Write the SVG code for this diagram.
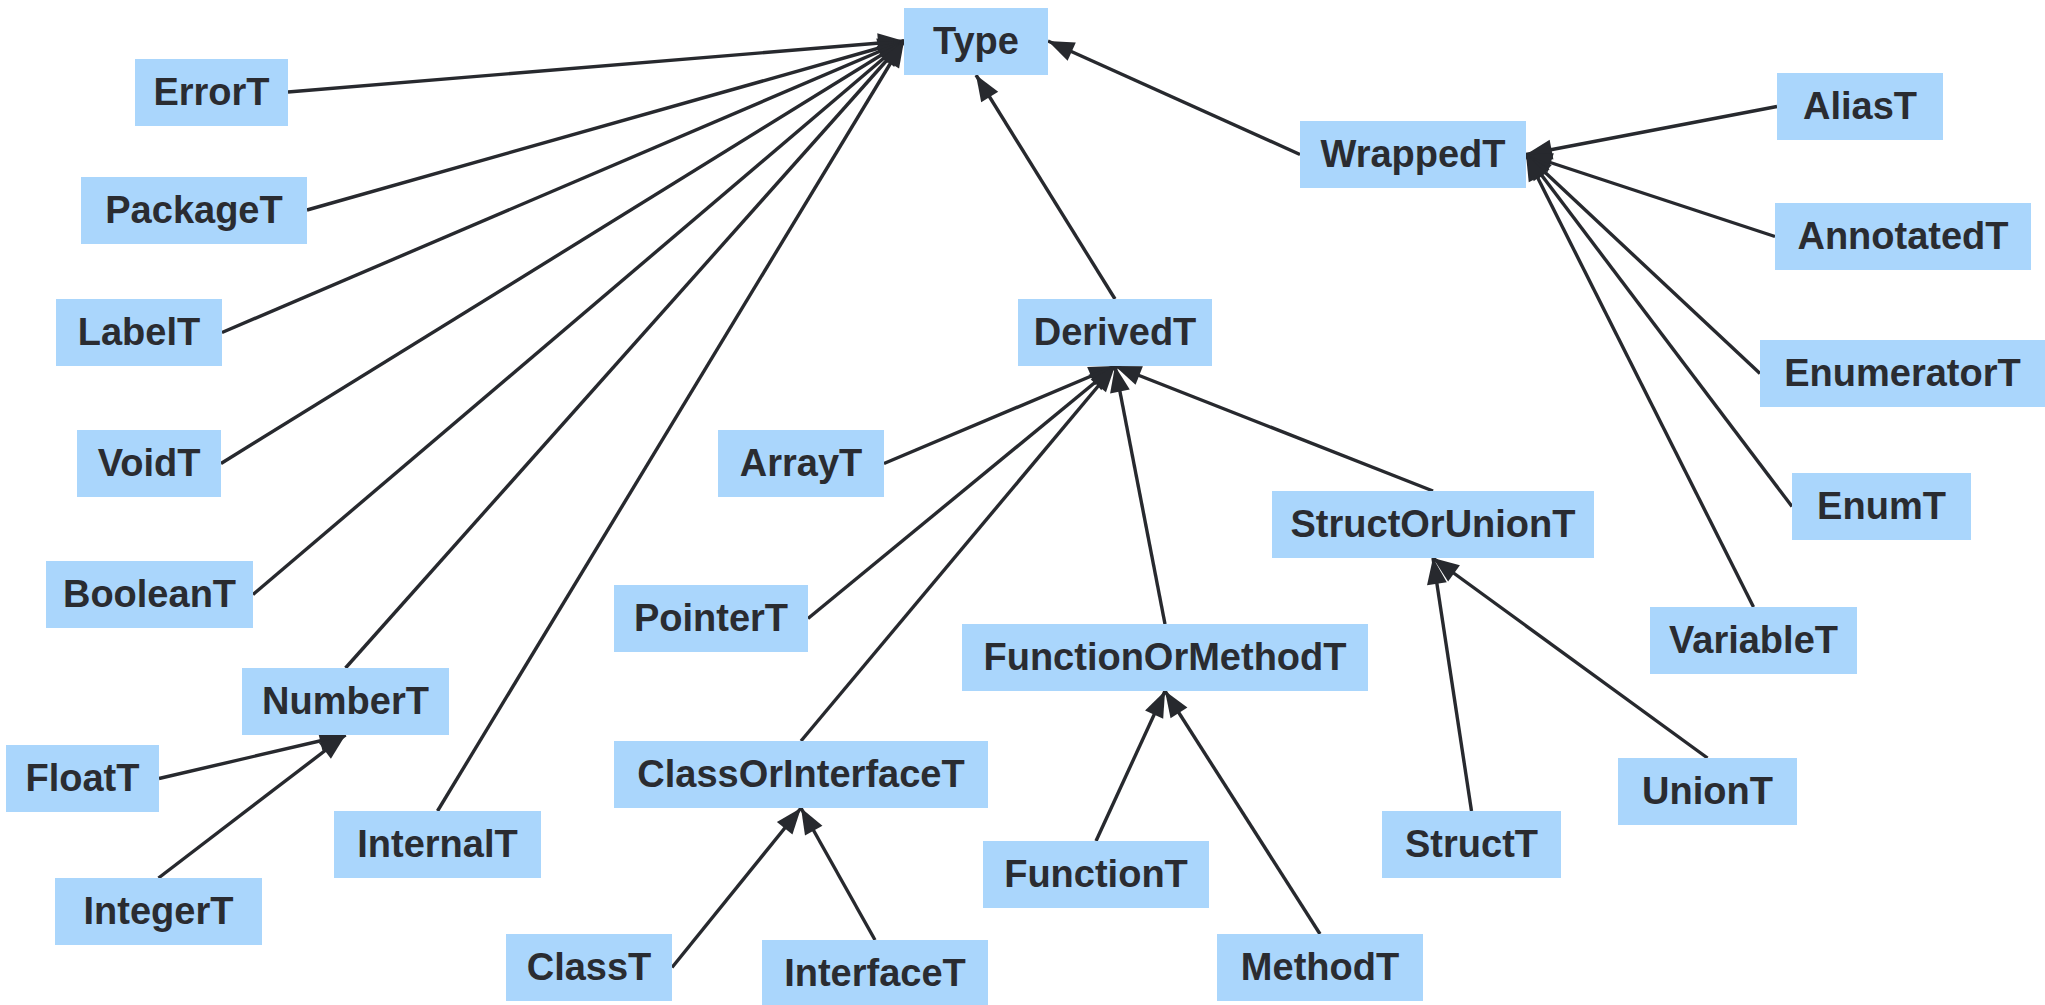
<svg xmlns="http://www.w3.org/2000/svg" width="2045" height="1005" viewBox="0 0 2045 1005">
  <style>
    .node rect { fill: #aad6fc; }
    .node text { font-family: "Liberation Sans", Arial, sans-serif; font-weight: bold; font-size: 38px; fill: #2a2c31; text-anchor: middle; }
    .edges line { stroke: #27292e; stroke-width: 3.4; marker-end: url(#arrow); }
  </style>
  <defs>
    <marker id="arrow" markerUnits="userSpaceOnUse" markerWidth="28" markerHeight="22" viewBox="-27 -11 28 22" refX="0" refY="0" orient="auto">
      <path d="M0,0 L-26,-10 L-26,10 Z" fill="#27292e"/>
    </marker>
  </defs>
  <rect width="2045" height="1005" fill="#ffffff"/>

  <!-- inheritance edges: child -> parent -->
  <g id="edges" class="edges">
    <line x1="288" y1="92" x2="904" y2="41"/>
    <line x1="307" y1="210" x2="904" y2="41"/>
    <line x1="222" y1="332.5" x2="904" y2="41"/>
    <line x1="221" y1="463.5" x2="904" y2="41"/>
    <line x1="253" y1="594.5" x2="904" y2="41"/>
    <line x1="345.5" y1="668" x2="904" y2="41"/>
    <line x1="437.5" y1="811" x2="904" y2="41"/>
    <line x1="1115" y1="299" x2="976" y2="75"/>
    <line x1="1300" y1="154.5" x2="1048" y2="41"/>
    <line x1="1777" y1="106.5" x2="1526" y2="154.5"/>
    <line x1="1775" y1="236.5" x2="1526" y2="154.5"/>
    <line x1="1760" y1="373.5" x2="1526" y2="154.5"/>
    <line x1="1792" y1="506.5" x2="1526" y2="154.5"/>
    <line x1="1753.5" y1="607" x2="1526" y2="154.5"/>
    <line x1="884" y1="463.5" x2="1115" y2="366"/>
    <line x1="808" y1="618.5" x2="1115" y2="366"/>
    <line x1="801" y1="741" x2="1115" y2="366"/>
    <line x1="1165" y1="624" x2="1115" y2="366"/>
    <line x1="1433" y1="491" x2="1115" y2="366"/>
    <line x1="159" y1="778.5" x2="345.5" y2="735"/>
    <line x1="158.5" y1="878" x2="345.5" y2="735"/>
    <line x1="672" y1="967.5" x2="801" y2="808"/>
    <line x1="875" y1="940" x2="801" y2="808"/>
    <line x1="1096" y1="841" x2="1165" y2="691"/>
    <line x1="1320" y1="934" x2="1165" y2="691"/>
    <line x1="1471.5" y1="811" x2="1433" y2="558"/>
    <line x1="1707.5" y1="758" x2="1433" y2="558"/>
  </g>

  <g id="Type" class="node"><rect x="904" y="8" width="144" height="67"/><text x="976" y="54">Type</text></g>
  <g id="ErrorT" class="node"><rect x="135" y="59" width="153" height="67"/><text x="211.5" y="105">ErrorT</text></g>
  <g id="PackageT" class="node"><rect x="81" y="177" width="226" height="67"/><text x="194" y="223">PackageT</text></g>
  <g id="LabelT" class="node"><rect x="56" y="299" width="166" height="67"/><text x="139" y="345">LabelT</text></g>
  <g id="VoidT" class="node"><rect x="77" y="430" width="144" height="67"/><text x="149" y="476">VoidT</text></g>
  <g id="BooleanT" class="node"><rect x="46" y="561" width="207" height="67"/><text x="149.5" y="607">BooleanT</text></g>
  <g id="NumberT" class="node"><rect x="242" y="668" width="207" height="67"/><text x="345.5" y="714">NumberT</text></g>
  <g id="FloatT" class="node"><rect x="6" y="745" width="153" height="67"/><text x="82.5" y="791">FloatT</text></g>
  <g id="IntegerT" class="node"><rect x="55" y="878" width="207" height="67"/><text x="158.5" y="924">IntegerT</text></g>
  <g id="InternalT" class="node"><rect x="334" y="811" width="207" height="67"/><text x="437.5" y="857">InternalT</text></g>
  <g id="WrappedT" class="node"><rect x="1300" y="121" width="226" height="67"/><text x="1413" y="167">WrappedT</text></g>
  <g id="AliasT" class="node"><rect x="1777" y="73" width="166" height="67"/><text x="1860" y="119">AliasT</text></g>
  <g id="AnnotatedT" class="node"><rect x="1775" y="203" width="256" height="67"/><text x="1903" y="249">AnnotatedT</text></g>
  <g id="EnumeratorT" class="node"><rect x="1760" y="340" width="285" height="67"/><text x="1902.5" y="386">EnumeratorT</text></g>
  <g id="EnumT" class="node"><rect x="1792" y="473" width="179" height="67"/><text x="1881.5" y="519">EnumT</text></g>
  <g id="VariableT" class="node"><rect x="1650" y="607" width="207" height="67"/><text x="1753.5" y="653">VariableT</text></g>
  <g id="DerivedT" class="node"><rect x="1018" y="299" width="194" height="67"/><text x="1115" y="345">DerivedT</text></g>
  <g id="ArrayT" class="node"><rect x="718" y="430" width="166" height="67"/><text x="801" y="476">ArrayT</text></g>
  <g id="PointerT" class="node"><rect x="614" y="585" width="194" height="67"/><text x="711" y="631">PointerT</text></g>
  <g id="FunctionOrMethodT" class="node"><rect x="962" y="624" width="406" height="67"/><text x="1165" y="670">FunctionOrMethodT</text></g>
  <g id="StructOrUnionT" class="node"><rect x="1272" y="491" width="322" height="67"/><text x="1433" y="537">StructOrUnionT</text></g>
  <g id="ClassOrInterfaceT" class="node"><rect x="614" y="741" width="374" height="67"/><text x="801" y="787">ClassOrInterfaceT</text></g>
  <g id="ClassT" class="node"><rect x="506" y="934" width="166" height="67"/><text x="589" y="980">ClassT</text></g>
  <g id="InterfaceT" class="node"><rect x="762" y="940" width="226" height="67"/><text x="875" y="986">InterfaceT</text></g>
  <g id="FunctionT" class="node"><rect x="983" y="841" width="226" height="67"/><text x="1096" y="887">FunctionT</text></g>
  <g id="MethodT" class="node"><rect x="1217" y="934" width="206" height="67"/><text x="1320" y="980">MethodT</text></g>
  <g id="StructT" class="node"><rect x="1382" y="811" width="179" height="67"/><text x="1471.5" y="857">StructT</text></g>
  <g id="UnionT" class="node"><rect x="1618" y="758" width="179" height="67"/><text x="1707.5" y="804">UnionT</text></g>
</svg>
